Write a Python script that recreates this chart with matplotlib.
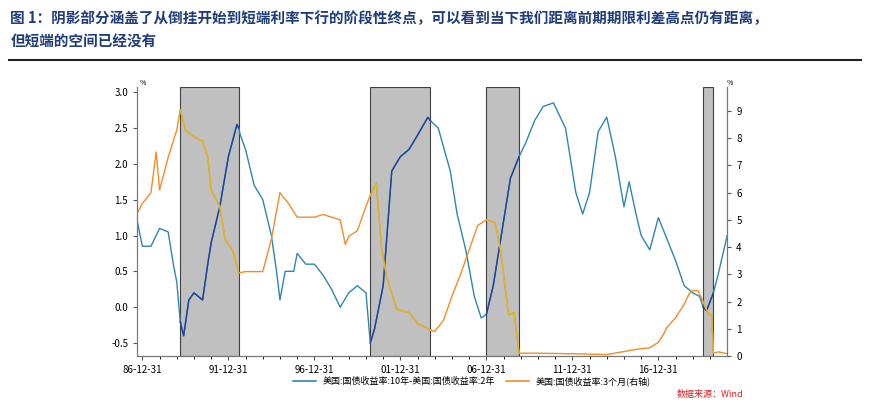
import matplotlib
matplotlib.use("Agg")
import matplotlib.pyplot as plt
import numpy as np
from matplotlib.lines import Line2D

plt.rcParams['font.family'] = ['Noto Sans CJK SC', 'DejaVu Sans']

spread_t = [1986.7,1987.0,1987.5,1988.0,1988.5,1988.8,1989.0,1989.2,1989.4,1989.7,1990.0,1990.5,1990.8,1991.0,1991.5,1992.0,1992.5,1992.6,1992.7,1993.0,1993.5,1994.0,1994.3,1994.5,1994.8,1995.0,1995.3,1995.8,1996.0,1996.5,1997.0,1997.5,1998.0,1998.5,1999.0,1999.5,2000.0,2000.25,2000.5,2001.0,2001.5,2002.0,2002.5,2003.0,2003.6,2003.75,2004.2,2004.9,2005.3,2005.8,2006.3,2006.7,2007.0,2007.4,2007.8,2008.4,2008.9,2009.3,2009.8,2010.3,2010.9,2011.6,2012.2,2012.6,2013.0,2013.5,2014.0,2014.5,2015.0,2015.3,2015.7,2016.0,2016.5,2017.0,2017.5,2018.0,2018.5,2019.0,2019.4,2019.6,2019.8,2020.2,2020.5,2021.0]
spread_v = [1.2,0.85,0.85,1.1,1.05,0.6,0.35,-0.2,-0.4,0.1,0.2,0.1,0.6,0.9,1.4,2.1,2.55,2.5,2.4,2.2,1.7,1.5,1.2,1.0,0.5,0.1,0.5,0.5,0.75,0.6,0.6,0.45,0.25,0.0,0.2,0.3,0.2,-0.5,-0.3,0.3,1.9,2.1,2.2,2.4,2.65,2.6,2.5,1.9,1.3,0.8,0.15,-0.15,-0.1,0.3,0.9,1.8,2.1,2.3,2.6,2.8,2.85,2.5,1.6,1.3,1.6,2.45,2.65,2.1,1.4,1.75,1.3,1.0,0.8,1.25,0.95,0.65,0.3,0.2,0.15,0.0,-0.05,0.2,0.48,1.0]

bill_t = [1986.7,1987.0,1987.5,1987.8,1988.0,1988.5,1989.0,1989.2,1989.5,1990.0,1990.5,1990.8,1991.0,1991.5,1991.8,1992.3,1992.6,1993.0,1993.5,1994.0,1994.5,1995.0,1995.5,1996.0,1996.5,1997.0,1997.5,1998.0,1998.5,1998.8,1999.0,1999.5,2000.0,2000.25,2000.6,2000.9,2001.2,2001.8,2002.5,2003.0,2003.75,2004.0,2004.5,2005.0,2005.5,2006.0,2006.5,2007.0,2007.5,2007.8,2008.0,2008.3,2008.6,2008.9,2010.0,2012.0,2014.0,2015.8,2016.5,2017.0,2017.3,2017.5,2018.0,2018.5,2018.8,2019.0,2019.3,2019.6,2019.9,2020.1,2020.2,2020.5,2021.0]
bill_v = [5.25,5.6,6.0,7.5,6.1,7.3,8.3,9.05,8.3,8.05,7.9,7.3,6.1,5.5,4.3,3.8,3.05,3.1,3.1,3.1,4.3,6.0,5.6,5.1,5.1,5.1,5.2,5.1,5.0,4.1,4.4,4.6,5.5,5.9,6.35,4.0,2.9,1.7,1.6,1.2,0.95,0.9,1.3,2.2,3.0,3.9,4.8,5.0,4.9,4.0,3.0,1.5,1.6,0.1,0.1,0.08,0.05,0.25,0.3,0.5,0.8,1.05,1.4,1.9,2.3,2.4,2.4,2.0,1.55,1.5,0.1,0.15,0.08]

shades = [(1989.2,1992.6),(2000.25,2003.75),(2007.0,2008.9),(2019.6,2020.2)]
tick_labels = ['86-12-31','91-12-31','96-12-31','01-12-31','06-12-31','11-12-31','16-12-31']

fig = plt.figure(figsize=(8.74,4.11), dpi=100)
ax = fig.add_axes([0.157,0.134,0.675,0.654])
ax2 = ax.twinx()

for a,b in shades:
    ax.axvspan(a,b,facecolor='#c0c0c0',edgecolor='#404040',lw=0.8,zorder=0)

def split(t,v,inside_col,out_col,axis,lw=1.0):
    t=np.array(t); v=np.array(v)
    mask = np.zeros(len(t),bool)
    for a,b in shades:
        mask |= (t>=a-1e-9)&(t<=b+1e-9)
    axis.plot(t,v,color=out_col,lw=lw,zorder=2)
    vin = np.where(mask,v,np.nan)
    axis.plot(t,vin,color=inside_col,lw=lw,zorder=3)

split(spread_t,spread_v,'#1f3f9f','#2e86b0',ax)
split(bill_t,bill_v,'#d9b82a','#f28c28',ax2)

ax.set_xlim(1986.7,2021.0)
ax.set_ylim(-0.68,3.07)
ax2.set_ylim(0,9.88)
ax.set_yticks(np.arange(-0.5,3.01,0.5))
ax.set_yticklabels([f'{x:.1f}' for x in np.arange(-0.5,3.01,0.5)])
ax2.set_yticks(range(0,10))
ax.set_xticks([1987+5*i for i in range(7)])
ax.set_xticklabels(tick_labels)
ax.set_xticks(np.arange(1987,2021),minor=True)
for a in (ax,ax2):
    a.tick_params(labelsize=7, length=3, color='#555555')
    a.tick_params(which='minor', length=2)
    a.spines['top'].set_visible(False)
    for s in a.spines.values(): s.set_color('#777777')
ax.text(0.005,1.0,'%',transform=ax.transAxes,fontsize=5,va='bottom')
ax2.text(1.0,1.0,'%',transform=ax.transAxes,fontsize=5,va='bottom')

fig.text(0.012,0.975,'图 1：阴影部分涵盖了从倒挂开始到短端利率下行的阶段性终点，可以看到当下我们距离前期期限利差高点仍有距离，\n但短端的空间已经没有',
         fontsize=10.5,fontweight='bold',color='#1f3d7a',va='top',linespacing=1.6)
fig.add_artist(plt.Line2D([0.01,0.985],[0.855,0.855],color='#222222',lw=1.5))

h=[Line2D([],[],color='#2e86b0',lw=1.2),Line2D([],[],color='#f28c28',lw=1.2)]
fig.legend(h,['美国:国债收益率:10年-美国:国债收益率:2年','美国:国债收益率:3个月(右轴)'],
           loc='center',bbox_to_anchor=(0.54,0.073),ncol=2,frameon=False,fontsize=6.5,
           handlelength=2.5,columnspacing=1.2)
fig.text(0.85,0.035,'数据来源：Wind',color='#e02020',fontsize=6.5,style='italic',ha='right')
fig.savefig('out.png',dpi=100)
